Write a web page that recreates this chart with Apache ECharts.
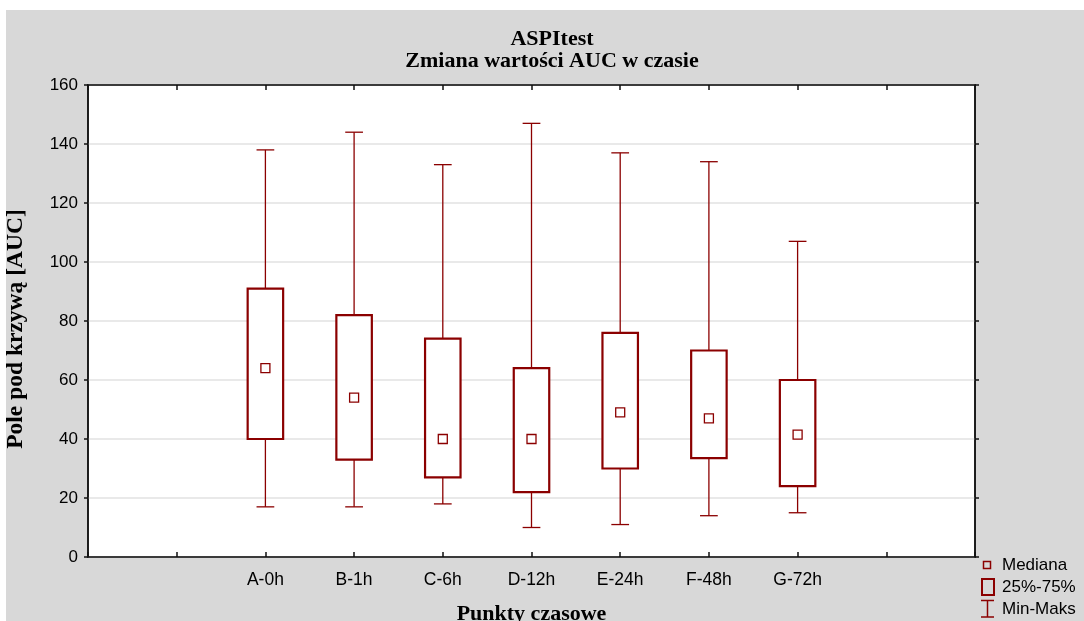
<!DOCTYPE html>
<html>
<head>
<meta charset="utf-8">
<script src="https://cdn.jsdelivr.net/npm/echarts@6/dist/echarts.min.js"></script>
<style>
html,body{margin:0;padding:0;background:#fff;}
#chart{width:1084px;height:621px;}
</style>
</head>
<body>
<div id="chart"></div>
<script>
// ---- data ----
const timePoints = ['A-0h', 'B-1h', 'C-6h', 'D-12h', 'E-24h', 'F-48h', 'G-72h'];
const minValues    = [17, 17, 18, 10, 11, 14, 15];
const q1Values     = [40, 33, 27, 22, 30, 33.5, 24];
const medianValues = [64, 54, 40, 40, 49, 47, 41.5];
const q3Values     = [91, 82, 74, 64, 76, 70, 60];
const maxValues    = [138, 144, 133, 147, 137, 134, 107];
const yTicks = [0, 20, 40, 60, 80, 100, 120, 140, 160];
const legendLabels = ['Mediana', '25%-75%', 'Min-Maks'];

// padded category axis (two empty slots on each side)
const axisCategories = ['', ' ', ...timePoints, '  ', '   '];

const RED = '#8B0000';
const boxData = timePoints.map((c, i) => [c, minValues[i], q1Values[i], q3Values[i], maxValues[i]]);
const medianData = timePoints.map((c, i) => [c, medianValues[i]]);

const chart = echarts.init(document.getElementById('chart'), null, {renderer: 'canvas'});

const sansFont = '"Liberation Sans", Arial, sans-serif';
const serifFont = '"Liberation Serif", "Times New Roman", serif';

const option = {
  animation: false,
  title: {
    text: 'ASPItest\nZmiana wartości AUC w czasie',
    left: 547,
    top: 23,
    textAlign: 'center',
    textStyle: {fontFamily: serifFont, fontWeight: 'bold', fontSize: 22, lineHeight: 22, color: '#000'}
  },
  grid: {
    left: 88, right: 109, top: 85, bottom: 64,
    containLabel: false, outerBoundsMode: 'none',
    show: true, backgroundColor: '#fff', borderColor: '#111', borderWidth: 1.5
  },
  graphic: [
    {type: 'rect', z: -100, shape: {x: 6, y: 10, width: 1078, height: 611}, style: {fill: '#d8d8d8'}, silent: true},
    // legend
    {type: 'rect', shape: {x: 983.5, y: 561.5, width: 7, height: 7}, style: {fill: 'none', stroke: RED, lineWidth: 1.5}},
    {type: 'text', x: 1002, y: 565, style: {text: legendLabels[0], font: '17px ' + sansFont, fill: '#000', verticalAlign: 'middle'}},
    {type: 'rect', shape: {x: 982, y: 579, width: 12, height: 16}, style: {fill: 'none', stroke: RED, lineWidth: 2}},
    {type: 'text', x: 1002, y: 587, style: {text: legendLabels[1], font: '17px ' + sansFont, fill: '#000', verticalAlign: 'middle'}},
    {type: 'polyline', shape: {points: [[981, 600.5], [994, 600.5]]}, style: {stroke: RED, lineWidth: 1.5}},
    {type: 'polyline', shape: {points: [[987.5, 600.5], [987.5, 617]]}, style: {stroke: RED, lineWidth: 1.5}},
    {type: 'polyline', shape: {points: [[981, 617], [994, 617]]}, style: {stroke: RED, lineWidth: 1.5}},
    {type: 'text', x: 1002, y: 609, style: {text: legendLabels[2], font: '17px ' + sansFont, fill: '#000', verticalAlign: 'middle'}}
  ],
  xAxis: [
    {
      type: 'category', data: axisCategories, boundaryGap: false, position: 'bottom',
      name: 'Punkty czasowe', nameLocation: 'middle', nameGap: 46,
      nameTextStyle: {fontFamily: serifFont, fontWeight: 'bold', fontSize: 22, color: '#000'},
      axisLine: {show: true, onZero: false, lineStyle: {color: '#111', width: 1.5}},
      axisTick: {show: true, inside: true, length: 5, interval: 0, lineStyle: {color: '#111', width: 1.5}},
      axisLabel: {show: true, interval: 0, margin: 14, fontFamily: sansFont, fontSize: 17.5, color: '#000'},
      splitLine: {show: false}, z: 5
    },
    {
      type: 'category', data: axisCategories, boundaryGap: false, position: 'top',
      axisLine: {show: true, onZero: false, lineStyle: {color: '#111', width: 1.5}},
      axisTick: {show: true, inside: true, length: 5, interval: 0, lineStyle: {color: '#111', width: 1.5}},
      axisLabel: {show: false},
      splitLine: {show: false}, z: 5
    }
  ],
  yAxis: [
    {
      type: 'value', min: yTicks[0], max: yTicks[yTicks.length - 1], interval: yTicks[1] - yTicks[0], position: 'left',
      name: 'Pole pod krzywą [AUC]', nameLocation: 'middle', nameGap: 60,
      nameTextStyle: {fontFamily: serifFont, fontWeight: 'bold', fontSize: 23.5, color: '#000', padding: [0, 16, 0, 0]},
      axisLine: {show: true, onZero: false, lineStyle: {color: '#111', width: 1.5}},
      axisTick: {show: true, inside: false, length: 4, lineStyle: {color: '#111', width: 1.5}},
      axisLabel: {show: true, margin: 10, fontFamily: sansFont, fontSize: 17, color: '#000'},
      splitLine: {show: true, lineStyle: {color: '#e2e2e2', width: 1.5}}
    },
    {
      type: 'value', min: yTicks[0], max: yTicks[yTicks.length - 1], interval: yTicks[1] - yTicks[0], position: 'right',
      axisLine: {show: true, onZero: false, lineStyle: {color: '#111', width: 1.5}},
      axisTick: {show: true, inside: false, length: 4, lineStyle: {color: '#111', width: 1.5}},
      axisLabel: {show: false},
      splitLine: {show: false}, z: 5
    }
  ],
  series: [
    {
      name: legendLabels[2], type: 'custom', xAxisIndex: 0, yAxisIndex: 0,
      encode: {x: 0, y: [1, 2, 3, 4]},
      data: boxData,
      renderItem: function (params, api) {
        const x = api.value(0);
        const band = api.size([1, 0])[0];
        const cap = band * 0.2 / 2;
        const pMin = api.coord([x, api.value(1)]);
        const pQ1 = api.coord([x, api.value(2)]);
        const pQ3 = api.coord([x, api.value(3)]);
        const pMax = api.coord([x, api.value(4)]);
        const st = {stroke: RED, lineWidth: 1.3, fill: 'none'};
        return {
          type: 'group',
          children: [
            {type: 'line', shape: {x1: pMax[0], y1: pMax[1], x2: pQ3[0], y2: pQ3[1]}, style: st},
            {type: 'line', shape: {x1: pQ1[0], y1: pQ1[1], x2: pMin[0], y2: pMin[1]}, style: st},
            {type: 'line', shape: {x1: pMax[0] - cap, y1: pMax[1], x2: pMax[0] + cap, y2: pMax[1]}, style: st},
            {type: 'line', shape: {x1: pMin[0] - cap, y1: pMin[1], x2: pMin[0] + cap, y2: pMin[1]}, style: st}
          ]
        };
      }
    },
    {
      name: legendLabels[1], type: 'custom', xAxisIndex: 0, yAxisIndex: 0,
      encode: {x: 0, y: [2, 3]},
      data: boxData,
      renderItem: function (params, api) {
        const x = api.value(0);
        const band = api.size([1, 0])[0];
        const w = band * 0.4;
        const pQ1 = api.coord([x, api.value(2)]);
        const pQ3 = api.coord([x, api.value(3)]);
        return {
          type: 'rect',
          shape: {x: pQ1[0] - w / 2, y: pQ3[1], width: w, height: pQ1[1] - pQ3[1]},
          style: {fill: '#fff', stroke: RED, lineWidth: 2.2}
        };
      }
    },
    {
      name: legendLabels[0], type: 'scatter', xAxisIndex: 0, yAxisIndex: 0,
      data: medianData, symbol: 'rect', symbolSize: 9,
      itemStyle: {color: '#fff', borderColor: RED, borderWidth: 1.3, opacity: 1}
    }
  ]
};
chart.setOption(option);
</script>
</body>
</html>
